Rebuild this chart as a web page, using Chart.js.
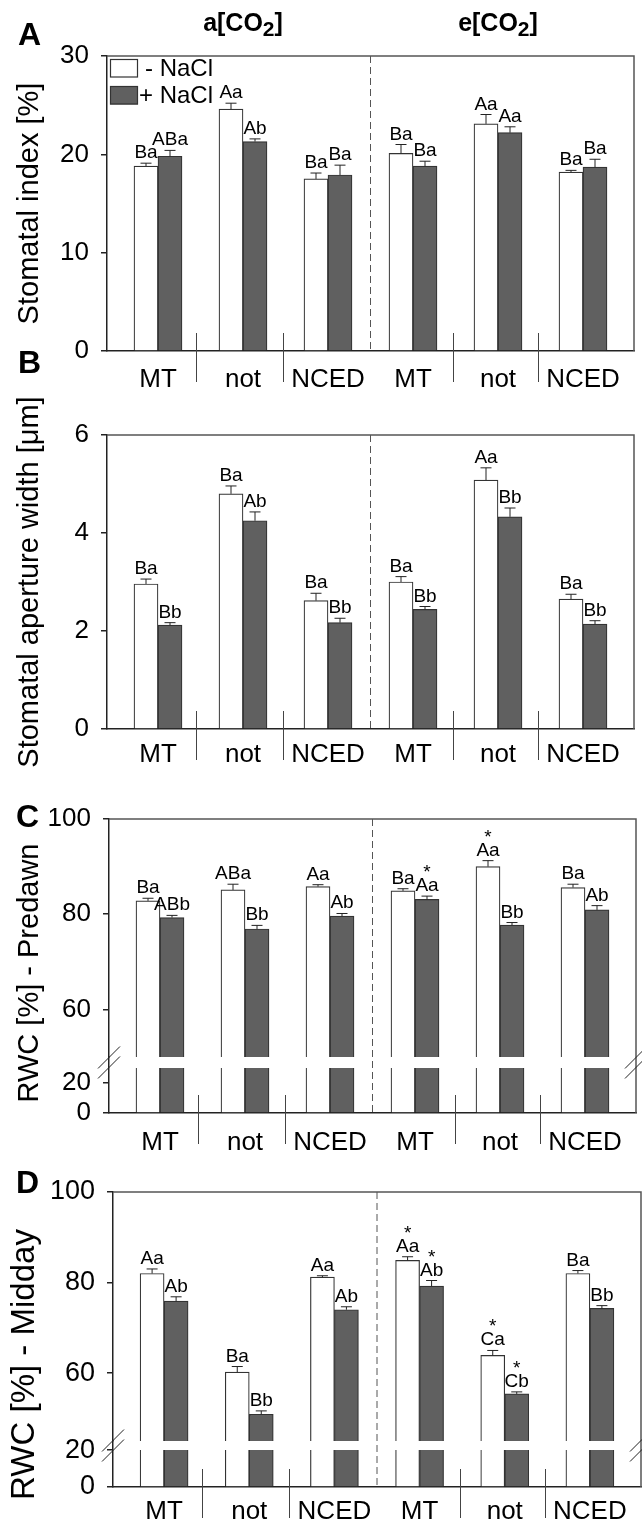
<!DOCTYPE html>
<html>
<head>
<meta charset="utf-8">
<script src="https://cdn.jsdelivr.net/npm/chart.js@4.4.0/dist/chart.umd.min.js"></script>
<style>
  body { margin: 0; background: #fff; }
  #figure { position: relative; width: 642px; height: 1524px; }
  #figure canvas { position: absolute; left: 0; }
</style>
</head>
<body>
<div id="figure">
  <canvas id="chartA" width="642" height="400" style="top:0px"></canvas>
  <canvas id="chartB" width="642" height="450" style="top:340px"></canvas>
  <canvas id="chartC" width="642" height="370" style="top:790px"></canvas>
  <canvas id="chartD" width="642" height="364" style="top:1160px"></canvas>
</div>
<script>
Chart.defaults.font.family = '"Liberation Sans", Arial, sans-serif';
Chart.defaults.color = '#000';

const groups = ['MT', 'not', 'NCED', 'MT', 'not', 'NCED'];
const groupIndex = [0, 1, 2, 3, 4, 5];
const treatments = ['- NaCl', '+ NaCl'];
const co2Levels = ['a', 'e'];

// A - stomatal index
const indexTicks = [0, 10, 20, 30];
const indexCtrl = [18.8, 24.6, 17.5, 20.1, 23.1, 18.2];
const indexCtrlErr = [0.3, 0.6, 0.6, 0.9, 0.95, 0.17];
const indexSalt = [19.8, 21.3, 17.9, 18.8, 22.2, 18.7];
const indexSaltErr = [0.6, 0.27, 1.0, 0.5, 0.6, 0.8];
const indexCtrlLetters = ['Ba', 'Aa', 'Ba', 'Ba', 'Aa', 'Ba'];
const indexSaltLetters = ['ABa', 'Ab', 'Ba', 'Ba', 'Aa', 'Ba'];

// B - stomatal aperture width
const apertureTicks = [0, 2, 4, 6];
const apertureCtrl = [2.96, 4.80, 2.62, 3.00, 5.08, 2.65];
const apertureCtrlErr = [0.10, 0.16, 0.15, 0.11, 0.25, 0.10];
const apertureSalt = [2.12, 4.25, 2.17, 2.44, 4.33, 2.14];
const apertureSaltErr = [0.05, 0.18, 0.09, 0.06, 0.18, 0.07];
const apertureCtrlLetters = ['Ba', 'Ba', 'Ba', 'Ba', 'Aa', 'Ba'];
const apertureSaltLetters = ['Bb', 'Ab', 'Bb', 'Bb', 'Bb', 'Bb'];

// C / D - relative water content (broken axis)
const rwcHighTicks = [60, 80, 100];
const rwcLowTicks = [0, 20];

const predawnCtrl = [82.8, 85.1, 85.8, 84.9, 90.0, 85.6];
const predawnCtrlErr = [0.55, 1.2, 0.4, 0.45, 1.25, 0.7];
const predawnSalt = [79.3, 76.9, 79.6, 83.1, 77.7, 80.9];
const predawnSaltErr = [0.45, 0.75, 0.55, 0.7, 0.55, 0.9];
const predawnCtrlLetters = ['Ba', 'ABa', 'Aa', 'Ba', 'Aa', 'Ba'];
const predawnSaltLetters = ['ABb', 'Bb', 'Ab', 'Aa', 'Bb', 'Ab'];
const predawnCtrlStars = ['', '', '', '', '*', ''];
const predawnSaltStars = ['', '', '', '*', '', ''];

const middayCtrl = [82.0, 60.2, 81.2, 84.9, 63.9, 82.0];
const middayCtrlErr = [1.0, 1.25, 0.3, 0.8, 1.1, 0.65];
const middaySalt = [75.9, 50.9, 74.0, 79.2, 55.4, 74.3];
const middaySaltErr = [0.95, 0.75, 0.65, 1.25, 0.45, 0.6];
const middayCtrlLetters = ['Aa', 'Ba', 'Aa', 'Aa', 'Ca', 'Ba'];
const middaySaltLetters = ['Ab', 'Bb', 'Ab', 'Ab', 'Cb', 'Bb'];
const middayCtrlStars = ['', '', '', '*', '*', ''];
const middaySaltStars = ['', '', '', '*', '*', ''];

const WHITE = '#ffffff';
const DARK = '#606060';
const EDGE = '#333333';
const FONT = '"Liberation Sans", Arial, sans-serif';
const groupBreaks = [0.45, 1.47, 3.47, 4.47];

// draws frame, dividers, error bars, letters, titles and legend
const decor = {
  id: 'decor',
  afterDatasetsDraw(chart, args, o) {
    const { ctx, chartArea: a, scales } = chart;
    const xs = scales.x;
    ctx.save();

    ctx.strokeStyle = '#555';
    ctx.lineWidth = 1.5;
    ctx.beginPath();
    ctx.moveTo(a.left, a.top);
    ctx.lineTo(a.right, a.top);
    ctx.lineTo(a.right, a.bottom);
    ctx.stroke();

    ctx.lineWidth = 1;
    ctx.setLineDash([7, 4]);
    const dx = xs.getPixelForValue(2.5);
    ctx.beginPath();
    ctx.moveTo(dx, a.top);
    ctx.lineTo(dx, a.bottom);
    ctx.stroke();
    ctx.setLineDash([]);

    ctx.strokeStyle = '#444';
    groupBreaks.forEach(v => {
      const sx = Math.round(xs.getPixelForValue(v)) + 0.5;
      ctx.beginPath();
      ctx.moveTo(sx, a.bottom - 18);
      ctx.lineTo(sx, a.bottom + 31);
      ctx.stroke();
    });

    if (o.lowCap) {
      const top = scales.yHi.bottom;
      const bot = scales.yLo.getPixelForValue(o.lowCap);
      const mid = (top + bot) / 2;
      ctx.strokeStyle = '#222';
      [a.left, a.right].forEach(ax => {
        [-5, 5].forEach(off => {
          ctx.beginPath();
          ctx.moveTo(ax - 11, mid + off + 11);
          ctx.lineTo(ax + 11, mid + off - 11);
          ctx.stroke();
        });
      });
    }

    ctx.strokeStyle = '#222';
    ctx.fillStyle = '#000';
    ctx.textAlign = 'center';
    ctx.textBaseline = 'alphabetic';
    chart.data.datasets.forEach((ds, i) => {
      if (!ds.errors) return;
      const meta = chart.getDatasetMeta(i);
      const ys = scales[meta.yAxisID];
      meta.data.forEach((bar, j) => {
        const errTop = ys.getPixelForValue(ds.data[j] + ds.errors[j]);
        ctx.beginPath();
        ctx.moveTo(bar.x, bar.y);
        ctx.lineTo(bar.x, errTop);
        ctx.moveTo(bar.x - 5.5, errTop);
        ctx.lineTo(bar.x + 5.5, errTop);
        ctx.stroke();
        const base = errTop - 5;
        ctx.font = '19px ' + FONT;
        ctx.fillText(ds.letters[j], bar.x, base);
        if (ds.stars && ds.stars[j]) ctx.fillText(ds.stars[j], bar.x, base - 13);
      });
    });
    ctx.restore();
  },
  afterDraw(chart, args, o) {
    const { ctx, chartArea: a } = chart;
    ctx.save();
    ctx.fillStyle = '#000';

    ctx.font = 'bold 32px ' + FONT;
    ctx.textAlign = 'left';
    ctx.textBaseline = 'alphabetic';
    ctx.fillText(o.letter, o.letterX, o.letterY);

    ctx.save();
    ctx.translate(o.titleX, (a.top + a.bottom) / 2 + o.titleShift);
    ctx.rotate(-Math.PI / 2);
    ctx.font = o.titleSize + 'px ' + FONT;
    ctx.textAlign = 'center';
    ctx.textBaseline = 'middle';
    ctx.fillText(o.title, 0, 0);
    ctx.restore();

    if (o.headers) {
      co2Levels.forEach((lvl, k) => {
        const cx = chart.scales.x.getPixelForValue(1 + 3 * k);
        const main = lvl + '[CO';
        ctx.font = 'bold 25px ' + FONT;
        const w1 = ctx.measureText(main).width;
        const w3 = ctx.measureText(']').width;
        ctx.font = 'bold 21px ' + FONT;
        const w2 = ctx.measureText('2').width;
        let x = cx - (w1 + w2 + w3) / 2;
        ctx.textAlign = 'left';
        ctx.font = 'bold 25px ' + FONT;
        ctx.fillText(main, x, 31);
        ctx.font = 'bold 21px ' + FONT;
        ctx.fillText('2', x + w1, 36);
        ctx.font = 'bold 25px ' + FONT;
        ctx.fillText(']', x + w1 + w2, 31);
      });
    }

    if (o.legend) {
      const fills = [WHITE, DARK];
      ctx.lineWidth = 1.2;
      ctx.strokeStyle = EDGE;
      ctx.font = '24px ' + FONT;
      ctx.textAlign = 'right';
      ctx.textBaseline = 'middle';
      treatments.forEach((t, k) => {
        const y = a.top + 3 + k * 27;
        ctx.fillStyle = fills[k];
        ctx.fillRect(a.left + 3, y, 28, 18.5);
        ctx.strokeRect(a.left + 3.5, y + 0.5, 27, 17.5);
        ctx.fillStyle = '#000';
        ctx.fillText(t, a.left + 106, y + 10);
      });
    }
    ctx.restore();
  }
};
Chart.register(decor);

function groupAxis(pad, height) {
  return {
    type: 'linear', min: -0.6, max: 5.6, offset: false,
    grid: { display: false, drawTicks: false },
    border: { display: true, color: '#222', width: 1.5 },
    ticks: { padding: pad, font: { size: 26 }, color: '#000', autoSkip: false, callback: (v, i) => groups[i] },
    afterBuildTicks: s => { s.ticks = groupIndex.map(v => ({ value: v })); },
    afterFit: s => { s.height = height; }
  };
}

function valueAxis(tickList, min, max, width, fontSize, extra) {
  return Object.assign({
    type: 'linear', min, max, position: 'left',
    grid: { drawOnChartArea: false, drawTicks: true, tickLength: 6, color: '#222', lineWidth: 1.5 },
    border: { display: true, color: '#222', width: 1.5 },
    ticks: { padding: 12, font: { size: fontSize }, color: '#000', autoSkip: false },
    afterBuildTicks: s => { s.ticks = tickList.map(v => ({ value: v })); },
    afterFit: s => { s.width = width; }
  }, extra);
}

function barSet(label, data, fill, extra) {
  return Object.assign({
    label, data, backgroundColor: fill, borderColor: EDGE, borderWidth: 1.2, barThickness: 24
  }, extra);
}

function baseOptions(padding, scales, decorOpts) {
  return {
    responsive: false, animation: false, events: [],
    layout: { padding },
    scales,
    plugins: { legend: { display: false }, tooltip: { enabled: false }, decor: decorOpts }
  };
}

// Panel A
new Chart(document.getElementById('chartA'), {
  type: 'bar',
  data: {
    labels: groupIndex,
    datasets: [
      barSet(treatments[0], indexCtrl, WHITE, { errors: indexCtrlErr, letters: indexCtrlLetters }),
      barSet(treatments[1], indexSalt, DARK, { errors: indexSaltErr, letters: indexSaltLetters })
    ]
  },
  options: baseOptions({ top: 56, right: 8, bottom: 0, left: 0 }, {
    x: groupAxis(13, 49),
    y: valueAxis(indexTicks, 0, 30, 107, 26)
  }, { letter: 'A', letterX: 18, letterY: 45, title: 'Stomatal index [%]', titleX: 30, titleSize: 29, titleShift: 0, legend: true, headers: true })
});

// Panel B
new Chart(document.getElementById('chartB'), {
  type: 'bar',
  data: {
    labels: groupIndex,
    datasets: [
      barSet(treatments[0], apertureCtrl, WHITE, { errors: apertureCtrlErr, letters: apertureCtrlLetters }),
      barSet(treatments[1], apertureSalt, DARK, { errors: apertureSaltErr, letters: apertureSaltLetters })
    ]
  },
  options: baseOptions({ top: 95, right: 8, bottom: 0, left: 0 }, {
    x: groupAxis(10, 61),
    y: valueAxis(apertureTicks, 0, 6, 107, 26)
  }, { letter: 'B', letterX: 18, letterY: 33, title: 'Stomatal aperture width [μm]', titleX: 30, titleSize: 29, titleShift: 0 })
});

// broken-axis panels: upper part from break value up, lower stub up to the cap
function rwcPanel(id, ctrl, ctrlErr, ctrlLetters, ctrlStars, salt, saltErr, saltLetters, saltStars, p) {
  const stub = { borderWidth: { left: 1.2, right: 1.2, top: 0, bottom: 0 }, borderSkipped: false, yAxisID: 'yLo' };
  new Chart(document.getElementById(id), {
    type: 'bar',
    data: {
      labels: groupIndex,
      datasets: [
        barSet(treatments[0], ctrl, WHITE, { yAxisID: 'yHi', stack: 'ctrl', base: p.hiMin, errors: ctrlErr, letters: ctrlLetters, stars: ctrlStars }),
        barSet(treatments[1], salt, DARK, { yAxisID: 'yHi', stack: 'salt', base: p.hiMin, errors: saltErr, letters: saltLetters, stars: saltStars }),
        barSet(treatments[0], ctrl.map(v => Math.min(v, p.lowCap)), WHITE, Object.assign({ stack: 'ctrl' }, stub)),
        barSet(treatments[1], salt.map(v => Math.min(v, p.lowCap)), DARK, Object.assign({ stack: 'salt' }, stub))
      ]
    },
    options: baseOptions(p.padding, {
      x: groupAxis(p.labelPad, p.axisHeight),
      yLo: valueAxis(rwcLowTicks, 0, p.loMax, p.width, p.tickSize, { stack: 'rwc', stackWeight: p.loWeight, stacked: false }),
      yHi: valueAxis(rwcHighTicks, p.hiMin, 100, p.width, p.tickSize, { stack: 'rwc', stackWeight: p.hiWeight, stacked: false })
    }, p.decor)
  });
}

rwcPanel('chartC', predawnCtrl, predawnCtrlErr, predawnCtrlLetters, predawnCtrlStars,
  predawnSalt, predawnSaltErr, predawnSaltLetters, predawnSaltStars, {
    hiMin: 50, loMax: 37.3, lowCap: 30, hiWeight: 238, loWeight: 56, width: 109, tickSize: 26,
    padding: { top: 29, right: 6, bottom: 0, left: 0 }, labelPad: 14, axisHeight: 47,
    decor: { letter: 'C', letterX: 16, letterY: 37, title: 'RWC [%] - Predawn', titleX: 30, titleSize: 29, titleShift: 7, lowCap: 30 }
  });

rwcPanel('chartD', middayCtrl, middayCtrlErr, middayCtrlLetters, middayCtrlStars,
  middaySalt, middaySaltErr, middaySaltLetters, middaySaltStars, {
    hiMin: 45, loMax: 24.9, lowCap: 20, hiWeight: 249, loWeight: 46, width: 113, tickSize: 27,
    padding: { top: 32, right: 1, bottom: 0, left: 0 }, labelPad: 9, axisHeight: 37,
    decor: { letter: 'D', letterX: 16, letterY: 33, title: 'RWC [%] - Midday', titleX: 25, titleSize: 33, titleShift: 25, lowCap: 20 }
  });
</script>
</body>
</html>
